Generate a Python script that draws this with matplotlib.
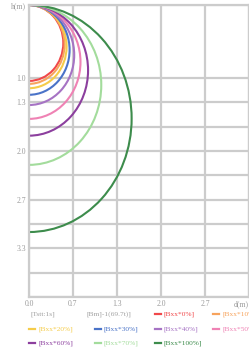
import matplotlib
matplotlib.use("Agg")
import matplotlib.pyplot as plt
from matplotlib.patches import Arc
from matplotlib.lines import Line2D

# ---- data ----
series_names = ["[Bxx*0%]", "[Bxx*10%]", "[Bxx*20%]", "[Bxx*30%]", "[Bxx*40%]",
                "[Bxx*50%]", "[Bxx*60%]", "[Bxx*70%]", "[Bxx*100%]"]
series_depth = [1.04, 1.08, 1.14, 1.23, 1.37, 1.56, 1.79, 2.19, 3.11]
series_colors = ["#f0484a", "#f7a35c", "#f5cc4a", "#4a73c8", "#a673c4",
                 "#ef82b4", "#8c3f9e", "#a3dc9c", "#3d8c4c"]
extra_legend = ["[Tstt:1s]", "[Bm]-1(69.7t)]"]

x_ticks = [0, 2/3, 4/3, 2.0, 8/3, 10/3]
x_labels = ["0.0", "0.7", "1.3", "2.0", "2.7", "d(m)"]
y_grid = [0, 1, 4/3, 5/3, 2, 7/3, 8/3, 3, 10/3, 11/3, 4]
y_labels = ["h(m)", "1.0", "1.3", "", "2.0", "", "2.7", "", "3.3", "", ""]

W, H = 249, 350
fig = plt.figure(figsize=(W/100, H/100), dpi=100)
fig.patch.set_facecolor("white")

def fx(px):
    return px / W

def fy(py):
    return 1 - py / H

ax = fig.add_axes([fx(29), fy(297), fx(249) - fx(29), fy(5) - fy(297)])
ax.set_xlim(0, 10/3)
ax.set_ylim(4, 0)

grid_col = "#cccccc"
ax.set_xticks(x_ticks)
ax.set_xticklabels(x_labels)
ax.set_yticks(y_grid)
ax.set_yticklabels(y_labels)
ax.grid(True, color=grid_col, linewidth=1.6)
ax.set_axisbelow(True)
for s in ax.spines.values():
    s.set_color(grid_col)
    s.set_linewidth(1.6)
ax.tick_params(length=0, labelsize=5.5, labelcolor="#9a9a9a", pad=2)
for lab in ax.get_xticklabels() + ax.get_yticklabels():
    lab.set_family("Liberation Serif")
xl = ax.get_xticklabels()
xl[-1].set_ha("right")

for d, c in zip(series_depth, series_colors):
    arc = Arc((0, d / 2), width=d, height=d, theta1=-90, theta2=90,
              color=c, linewidth=1.5)
    ax.add_patch(arc)

# ---- legend (manual layout) ----
fs = 5.3
tc = "#a0a0a0"
fig.text(fx(30), fy(314), extra_legend[0], fontsize=fs, color=tc,
         family="Liberation Serif", va="center")
fig.text(fx(86), fy(314), extra_legend[1], fontsize=fs, color=tc,
         family="Liberation Serif", va="center")

pos = [(155, 314), (213, 314), (29, 329), (95, 329), (155, 329), (213, 329),
       (29, 343), (95, 343), (155, 343)]
for (px, py), name, c in zip(pos, series_names, series_colors):
    fig.add_artist(Line2D([fx(px), fx(px + 6)], [fy(py), fy(py)],
                          color=c, linewidth=1.6, transform=fig.transFigure))
    fig.text(fx(px + 9), fy(py), name, fontsize=fs, color=c,
             family="Liberation Serif", va="center")

fig.savefig("out.png", dpi=100, facecolor="white")
